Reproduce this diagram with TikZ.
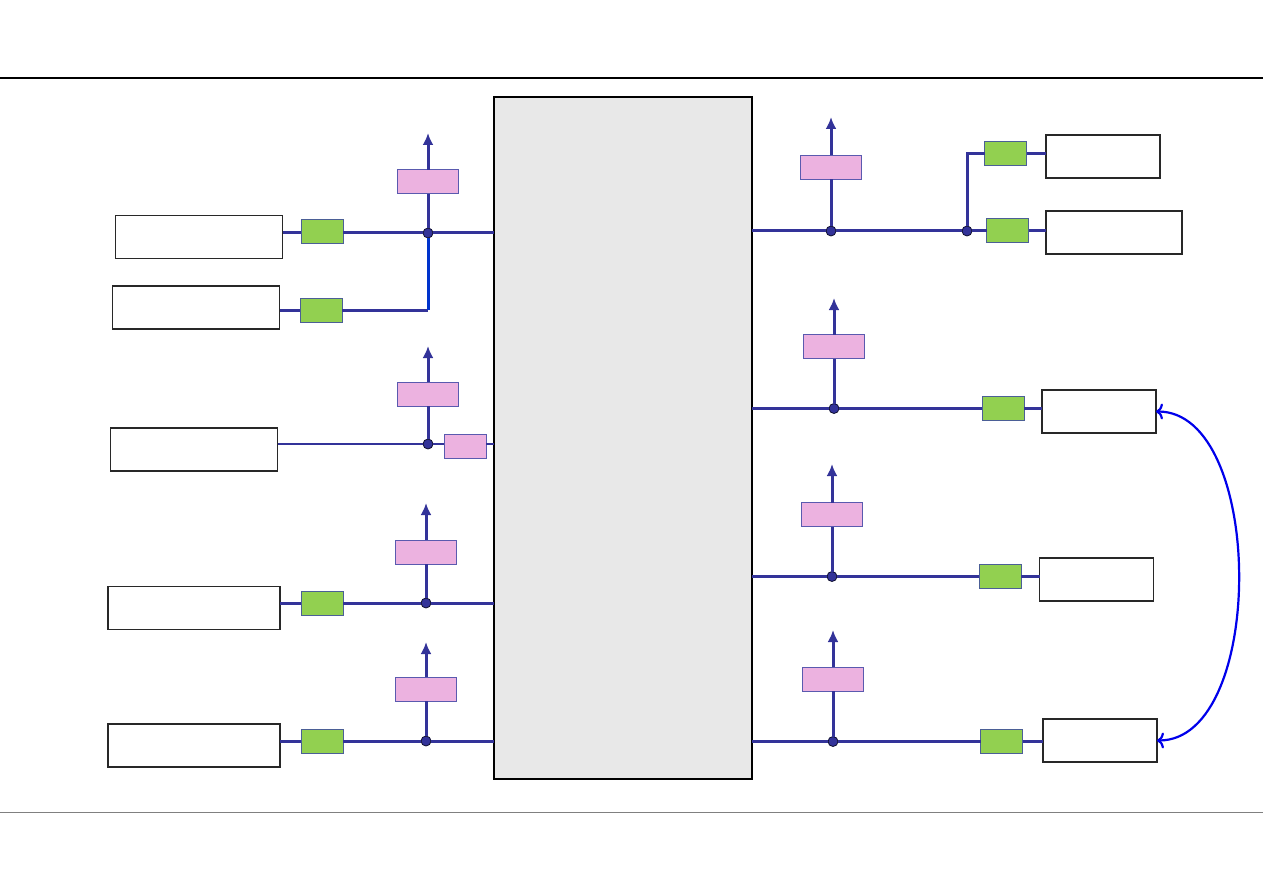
\documentclass[tikz,border=0pt]{standalone}
\usepackage{tikz}
\usetikzlibrary{arrows.meta}
\definecolor{line_navy}{RGB}{51,51,153}
\definecolor{line_blue}{RGB}{0,51,204}
\definecolor{curve_blue}{RGB}{0,0,235}
\definecolor{node_green}{RGB}{146,208,80}
\definecolor{edge_green}{RGB}{75,95,150}
\definecolor{node_pink}{RGB}{236,178,224}
\definecolor{edge_pink}{RGB}{90,90,175}
\definecolor{node_hub}{RGB}{232,232,232}
\definecolor{edge_dev}{RGB}{40,40,40}

\begin{document}
\begin{tikzpicture}[x=1pt,y=-1pt,line_navy,line width=3pt,>={Latex[length=12pt,width=11pt]}]
    \tikzstyle{dev}=[draw=edge_dev, fill=white, rectangle, line width=1.3pt, inner sep=0pt, outer sep=0pt, minimum width=167pt, minimum height=43pt]
    \tikzstyle{devs}=[style=dev, minimum width=114pt]
    \tikzstyle{hub}=[style=dev, fill=node_hub, draw=black, minimum width=258pt, minimum height=682pt]
    \tikzstyle{filt}=[draw=edge_green, fill=node_green, rectangle, line width=1pt, inner sep=0pt, outer sep=0pt, minimum width=42pt, minimum height=24pt]
    \tikzstyle{conv}=[style=filt, draw=edge_pink, fill=node_pink, minimum width=61pt]
    \tikzstyle{convs}=[style=conv, minimum width=42pt]
    \tikzstyle{jn}=[circle, draw=black!70!line_navy, fill=line_navy, line width=0.8pt, inner sep=0pt, outer sep=0pt, minimum size=10pt]

    \useasboundingbox (0,0) rectangle (1263,893);
    \draw[black, line width=2.2pt] (0,78) -- (1263,78);
    \draw[gray, line width=0.8pt] (0,812) -- (1263,812);

    % centre block
    \node[hub] (hub) at (623,438) {};

    % left side
    \node[dev]  (L1) at (199,237)   {};
    \node[dev]  (L2) at (196,307.5) {};
    \node[dev]  (L3) at (194,449.5) {};
    \node[dev, minimum width=172pt] (L4) at (194,608)   {};
    \node[dev, minimum width=172pt] (L5) at (194,745.5) {};

    \node[filt] (g1) at (322,232) {};
    \node[filt] (g2) at (321,310) {};
    \node[filt] (g4) at (322,603) {};
    \node[filt] (g5) at (322,741) {};

    \node[jn] (d1) at (428,233) {};
    \node[jn] (d3) at (428,444) {};
    \node[jn] (d4) at (426,603) {};
    \node[jn] (d5) at (426,741) {};

    \node[conv]  (p1)  at (428,182) {};
    \node[conv]  (p3)  at (428,394) {};
    \node[convs] (p3b) at (465,446) {};
    \node[conv]  (p4)  at (426,552) {};
    \node[conv]  (p5)  at (426,689) {};

    \coordinate (a1) at (428,133);
    \coordinate (a3) at (428,346);
    \coordinate (a4) at (426,503);
    \coordinate (a5) at (426,642);

    % right side
    \node[devs] (R1a) at (1103,156.5) {};
    \node[devs, minimum width=136pt] (R1b) at (1114,232.5) {};
    \node[devs] (R2) at (1099,411.5) {};
    \node[devs] (R3) at (1096.5,579.5) {};
    \node[devs] (R4) at (1100,740.5) {};

    \node[filt] (gr1a) at (1005.5,154) {};
    \node[filt] (gr1b) at (1007.5,231) {};
    \node[filt] (gr2)  at (1003,408.5) {};
    \node[filt] (gr3)  at (1000,576.5) {};
    \node[filt] (gr4)  at (1001.5,741.5) {};

    \node[jn] (dr1) at (831,231) {};
    \node[jn] (dj)  at (967,231) {};
    \node[jn] (dr2) at (834,408.5) {};
    \node[jn] (dr3) at (832,576.5) {};
    \node[jn] (dr4) at (833,741.5) {};

    \node[conv] (pr1) at (831,167.5) {};
    \node[conv] (pr2) at (834,346.5) {};
    \node[conv] (pr3) at (832,514.5) {};
    \node[conv] (pr4) at (833,679) {};

    \coordinate (ar1) at (831,117);
    \coordinate (ar2) at (834,298);
    \coordinate (ar3) at (832,464);
    \coordinate (ar4) at (833,630);

    % left wiring
    \path
     (L1.east |- d1) edge (g1.west |- d1)
     (g1.east |- d1) edge (d1)
     (d1) edge (hub.west |- d1)
     (d1) edge (p1)
     (p1) edge[->] (a1)
     (L2.east |- g2) edge (g2)
     (g2) edge (g2 -| d1)
     (g2 -| d1) edge[line_blue] (d1)
     (L3.east |- d3) edge[line width=2.2pt] (d3)
     (d3) edge[line width=2.2pt] (d3 -| p3b.west)
     (d3 -| p3b.east) edge[line width=2.2pt] (hub.west |- d3)
     (d3) edge (p3)
     (p3) edge[->] (a3)
     (L4.east |- g4) edge (g4)
     (g4) edge (d4)
     (d4) edge (hub.west |- d4)
     (d4) edge (p4)
     (p4) edge[->] (a4)
     (L5.east |- g5) edge (g5)
     (g5) edge (d5)
     (d5) edge (hub.west |- d5)
     (d5) edge (p5)
     (p5) edge[->] (a5)
     ;

    % right wiring
    \path
     (hub.east |- dr1) edge (dr1)
     (dr1) edge (dj)
     (dj) edge (gr1b)
     (gr1b) edge (R1b.west |- gr1b)
     (gr1a) edge (R1a.west |- gr1a)
     (dr1) edge (pr1)
     (pr1) edge[->] (ar1)
     (hub.east |- dr2) edge (dr2)
     (dr2) edge (gr2)
     (gr2) edge (R2.west |- gr2)
     (dr2) edge (pr2)
     (pr2) edge[->] (ar2)
     (hub.east |- dr3) edge (dr3)
     (dr3) edge (gr3)
     (gr3) edge (R3.west |- gr3)
     (dr3) edge (pr3)
     (pr3) edge[->] (ar3)
     (hub.east |- dr4) edge (dr4)
     (dr4) edge (gr4)
     (gr4) edge (R4.west |- gr4)
     (dr4) edge (pr4)
     (pr4) edge[->] (ar4)
     ;
    \draw (dj) |- (gr1a);

    \draw[<->, curve_blue, line width=2.2pt, >={To[length=7pt,width=16pt]}]
     (R2.east) to[out=0, in=0, looseness=0.85] (R4.east);
\end{tikzpicture}
\end{document}
